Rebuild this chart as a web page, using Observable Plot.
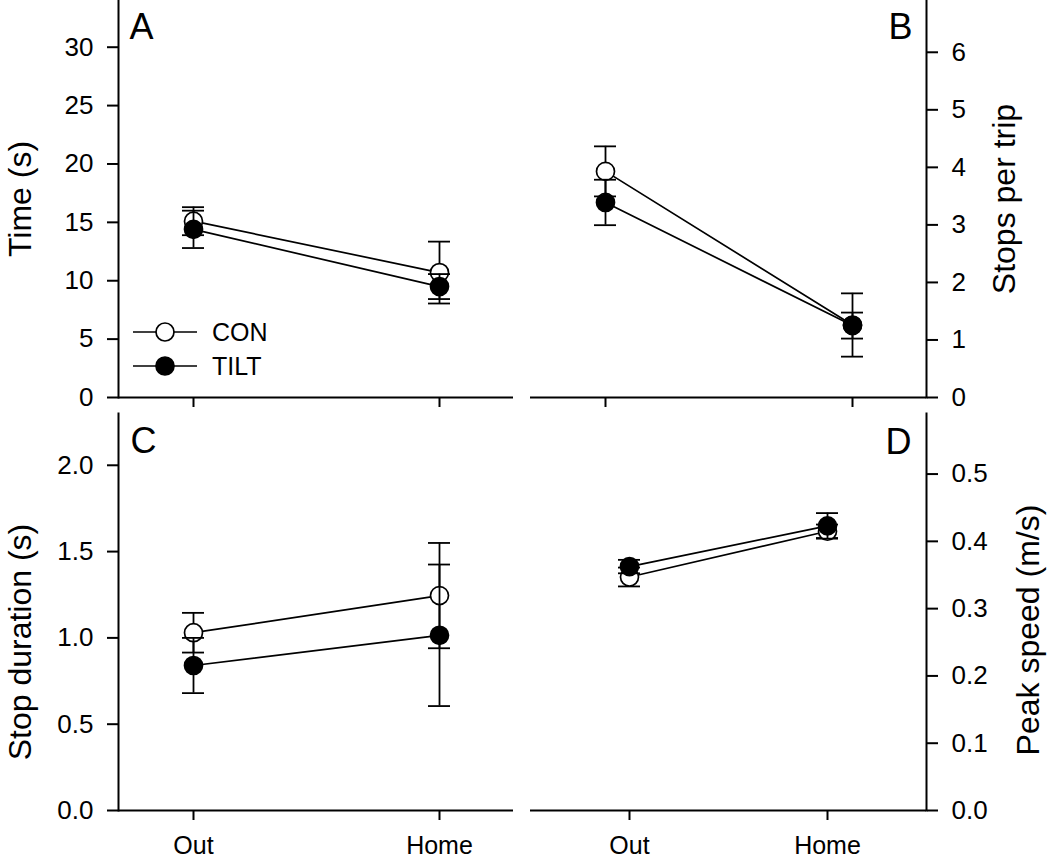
<!DOCTYPE html>
<html>
<head>
<meta charset="utf-8">
<script src="https://cdn.jsdelivr.net/npm/d3@7"></script>
<script src="https://cdn.jsdelivr.net/npm/@observablehq/plot@0.6"></script>
<style>
  html, body { margin: 0; padding: 0; background: #fff; }
  #chart { position: relative; width: 1050px; height: 858px; background: #fff; font-family: "Liberation Sans", Arial, sans-serif; }
  #chart svg { position: absolute; overflow: visible; }
  .legend-row { position: absolute; display: flex; align-items: center; font-size: 25px; color: #000; }
</style>
</head>
<body>
<div id="chart"></div>
<script>
// ---- data ----
const phases = ["Out", "Home"];
const groups = ["CON", "TILT"];

// Panel A: Time (s)
const timeCON = [15.1, 10.7];
const timeCONerr = [1.2, 2.65];
const timeTILT = [14.4, 9.5];
const timeTILTerr = [1.6, 1.07];
const timeTicks = [0, 5, 10, 15, 20, 25, 30];

// Panel B: Stops per trip
const stopsCON = [3.93, 1.26];
const stopsCONerr = [0.435, 0.55];
const stopsTILT = [3.39, 1.25];
const stopsTILTerr = [0.395, 0.226];
const stopsTicks = [0, 1, 2, 3, 4, 5, 6];

// Panel C: Stop duration (s)
const durCON = [1.03, 1.245];
const durCONerr = [0.115, 0.305];
const durTILT = [0.84, 1.015];
const durTILTerr = [0.16, 0.41];
const durTicks = [0, 0.5, 1.0, 1.5, 2.0];

// Panel D: Peak speed (m/s)
const speedCON = [0.347, 0.415];
const speedCONerr = [0.014, 0.01];
const speedTILT = [0.3625, 0.423];
const speedTILTerr = [0.01, 0.019];
const speedTicks = [0, 0.1, 0.2, 0.3, 0.4, 0.5];

function rows(con, conErr, tilt, tiltErr) {
  const out = [];
  phases.forEach((p, i) => {
    out.push({phase: p, group: "CON", mean: con[i], err: conErr[i]});
    out.push({phase: p, group: "TILT", mean: tilt[i], err: tiltErr[i]});
  });
  return out;
}

const FONT = "Liberation Sans, Arial, sans-serif";

function panel(cfg) {
  const data = rows(...cfg.values);
  const lo = d => d.mean - d.err;
  const hi = d => d.mean + d.err;
  const marks = [
    Plot.ruleY([0], {stroke: "black", strokeWidth: 2}),
    Plot.frame({anchor: cfg.side, stroke: "black", strokeWidth: 2}),
    Plot.axisY({anchor: cfg.side, ticks: cfg.ticks, tickFormat: cfg.fmt, tickSize: 11, tickPadding: 14,
      strokeWidth: 2, label: null, fontSize: 26}),
    Plot.axisX({anchor: "bottom", tickSize: 10, tickPadding: 16, strokeWidth: 2, label: null, fontSize: 25,
      tickFormat: cfg.xLabels ? (d => d) : (() => "")})
  ];
  for (const g of groups) {
    const gd = data.filter(d => d.group === g);
    marks.push(Plot.line(gd, {x: "phase", y: "mean", stroke: "black", strokeWidth: 1.7}));
    marks.push(Plot.ruleX(gd, {x: "phase", y1: lo, y2: hi, stroke: "black", strokeWidth: 1.8}));
    marks.push(Plot.ruleY(gd, {x1: "phase", x2: "phase", y: lo, insetLeft: -11, insetRight: -11, stroke: "black", strokeWidth: 1.8}));
    marks.push(Plot.ruleY(gd, {x1: "phase", x2: "phase", y: hi, insetLeft: -11, insetRight: -11, stroke: "black", strokeWidth: 1.8}));
    marks.push(Plot.dot(gd, {x: "phase", y: "mean", r: 9, fill: g === "CON" ? "white" : "black", stroke: "black", strokeWidth: 1.7}));
  }
  marks.push(Plot.text([cfg.title], {text: d => d, frameAnchor: cfg.side, rotate: -90, textAnchor: "middle",
    lineAnchor: "middle", dx: cfg.titleDx, dy: cfg.titleDy, fontSize: 32, fill: "black"}));
  marks.push(Plot.text([cfg.letter], {text: d => d, frameAnchor: cfg.side === "left" ? "top-left" : "top-right",
    textAnchor: cfg.side === "left" ? "start" : "end", lineAnchor: "top", dx: cfg.letterDx, dy: cfg.letterDy,
    fontSize: 36, fill: "black"}));
  const svg = Plot.plot({
    width: cfg.width, height: cfg.height,
    marginLeft: cfg.ml, marginRight: cfg.mr, marginTop: cfg.mt, marginBottom: cfg.mb,
    x: {type: "point", domain: phases, padding: cfg.padding},
    y: {domain: cfg.yDomain},
    style: {fontFamily: FONT, fontSize: "26px", color: "black", background: "transparent", overflow: "visible"},
    marks
  });
  svg.style.left = cfg.left + "px";
  svg.style.top = cfg.top + "px";
  return svg;
}

const chart = document.getElementById("chart");
const f0 = d3.format("d");
const f1 = d3.format(".1f");

chart.appendChild(panel({
  values: [timeCON, timeCONerr, timeTILT, timeTILTerr], ticks: timeTicks, fmt: f0, yDomain: [0, 34],
  side: "left", xLabels: false, padding: 0.3, title: "Time (s)", letter: "A",
  titleDx: -98, titleDy: 0, letterDx: 11, letterDy: 13,
  left: 0, top: 0, width: 525, height: 412, ml: 118, mr: 12, mt: 0, mb: 15
}));
chart.appendChild(panel({
  values: [stopsCON, stopsCONerr, stopsTILT, stopsTILTerr], ticks: stopsTicks, fmt: f0, yDomain: [0, 6.9],
  side: "right", xLabels: false, padding: 0.3, title: "Stops per trip", letter: "B",
  titleDx: 78, titleDy: 0, letterDx: -14, letterDy: 13,
  left: 525, top: 0, width: 525, height: 412, ml: 5, mr: 124, mt: 0, mb: 15
}));
chart.appendChild(panel({
  values: [durCON, durCONerr, durTILT, durTILTerr], ticks: durTicks, fmt: f1, yDomain: [0, 2.3],
  side: "left", xLabels: true, padding: 0.3, title: "Stop duration (s)", letter: "C",
  titleDx: -98, titleDy: 30, letterDx: 12, letterDy: 14,
  left: 0, top: 412, width: 525, height: 446, ml: 118, mr: 12, mt: 1, mb: 48
}));
chart.appendChild(panel({
  values: [speedCON, speedCONerr, speedTILT, speedTILTerr], ticks: speedTicks, fmt: f1, yDomain: [0, 0.59],
  side: "right", xLabels: true, padding: 0.5, title: "Peak speed (m/s)", letter: "D",
  titleDx: 102, titleDy: 18, letterDx: -15, letterDy: 15,
  left: 525, top: 412, width: 525, height: 446, ml: 5, mr: 124, mt: 1, mb: 48
}));

// ---- legend (inside panel A) ----
groups.forEach((g, i) => {
  const row = document.createElement("div");
  row.className = "legend-row";
  row.style.left = "133px";
  row.style.top = (332 + 34 * i - 15) + "px";
  row.style.height = "30px";
  const ns = "http://www.w3.org/2000/svg";
  const s = document.createElementNS(ns, "svg");
  s.setAttribute("width", "66"); s.setAttribute("height", "30");
  s.style.position = "static";
  const ln = document.createElementNS(ns, "line");
  ln.setAttribute("x1", "0"); ln.setAttribute("x2", "64"); ln.setAttribute("y1", "15"); ln.setAttribute("y2", "15");
  ln.setAttribute("stroke", "black"); ln.setAttribute("stroke-width", "1.7");
  const c = document.createElementNS(ns, "circle");
  c.setAttribute("cx", "32"); c.setAttribute("cy", "15"); c.setAttribute("r", "9");
  c.setAttribute("fill", g === "CON" ? "white" : "black"); c.setAttribute("stroke", "black"); c.setAttribute("stroke-width", "1.7");
  s.appendChild(ln); s.appendChild(c);
  const t = document.createElement("span");
  t.textContent = g;
  t.style.marginLeft = "13px";
  row.appendChild(s); row.appendChild(t);
  chart.appendChild(row);
});
</script>
</body>
</html>
